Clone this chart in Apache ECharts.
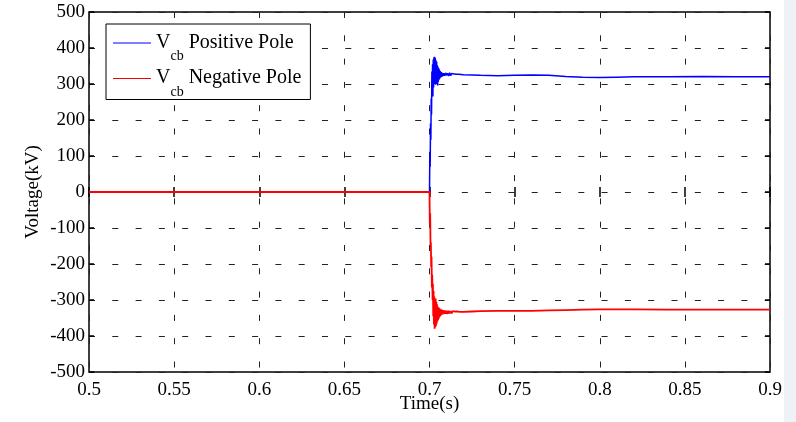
<!DOCTYPE html>
<html>
<head>
<meta charset="utf-8">
<script src="https://cdn.jsdelivr.net/npm/echarts@6/dist/echarts.min.js"></script>
<style>
  html, body { margin: 0; padding: 0; background: #ffffff; }
  #chart { width: 796px; height: 422px; }
</style>
</head>
<body>
<div id="chart"></div>
<script>
// Axis ranges and tick settings
const timeMin = 0.5, timeMax = 0.9, timeStep = 0.05;
const voltMin = -500, voltMax = 500, voltStep = 100;

// Series labels (V with subscript "cb")
const seriesNames = ['Positive Pole', 'Negative Pole'];

// Breaker voltage, positive pole: [time (s), voltage (kV)]
const positivePole = [
  [0.5000, 0], [0.7000, 0],
  [0.7002, 110], [0.7004, 70], [0.7006, 190], [0.7008, 145], [0.7010, 260],
  [0.7012, 215], [0.7014, 335], [0.7016, 270], [0.7018, 355], [0.7020, 265],
  [0.7022, 368], [0.7024, 290], [0.7026, 374], [0.7028, 300], [0.7030, 376],
  [0.7032, 305], [0.7034, 372], [0.7036, 298], [0.7038, 366], [0.7040, 300],
  [0.7042, 362], [0.7044, 308], [0.7046, 352], [0.7048, 296], [0.7050, 348],
  [0.7052, 306], [0.7054, 344], [0.7056, 312], [0.7058, 340], [0.7060, 315],
  [0.7063, 336], [0.7066, 318], [0.7069, 333], [0.7072, 320], [0.7076, 331],
  [0.7080, 322], [0.7085, 330], [0.7090, 323], [0.7095, 331], [0.7100, 324],
  [0.7106, 330], [0.7112, 322], [0.7118, 331], [0.7124, 323], [0.7130, 329],
  [0.7137, 324], [0.7144, 328], [0.7151, 323], [0.7158, 327], [0.7165, 324],
  [0.7172, 327], [0.7180, 325], [0.7200, 326], [0.7250, 325], [0.7300, 324],
  [0.7400, 323], [0.7500, 324], [0.7600, 325], [0.7700, 324], [0.7800, 321],
  [0.7900, 319], [0.8000, 318], [0.8100, 319], [0.8200, 320], [0.8400, 320],
  [0.8600, 321], [0.8800, 320], [0.9000, 320]
];

// Breaker voltage, negative pole: [time (s), voltage (kV)]
const negativePole = [
  [0.5000, 0], [0.7000, 0],
  [0.7002, -90], [0.7004, -60], [0.7006, -150], [0.7008, -140], [0.7010, -210],
  [0.7012, -180], [0.7014, -265], [0.7016, -230], [0.7018, -300], [0.7020, -255],
  [0.7022, -345], [0.7024, -275], [0.7026, -368], [0.7028, -290], [0.7030, -380],
  [0.7032, -300], [0.7034, -376], [0.7036, -296], [0.7038, -372], [0.7040, -305],
  [0.7042, -366], [0.7044, -312], [0.7046, -360], [0.7048, -318], [0.7050, -356],
  [0.7052, -320], [0.7054, -352], [0.7056, -322], [0.7058, -348], [0.7060, -324],
  [0.7063, -345], [0.7066, -326], [0.7069, -342], [0.7072, -327], [0.7076, -340],
  [0.7080, -328], [0.7085, -339], [0.7090, -329], [0.7095, -338], [0.7100, -330],
  [0.7106, -339], [0.7112, -330], [0.7118, -337], [0.7124, -331], [0.7130, -337],
  [0.7137, -331], [0.7144, -336], [0.7151, -332], [0.7158, -336], [0.7165, -332],
  [0.7172, -335], [0.7180, -333], [0.7200, -333], [0.7250, -332], [0.7300, -331],
  [0.7400, -330], [0.7500, -330], [0.7600, -330], [0.7700, -329], [0.7800, -328],
  [0.7900, -327], [0.8000, -326], [0.8100, -326], [0.8200, -326], [0.8400, -327],
  [0.8600, -327], [0.8800, -327], [0.9000, -327]
];

const FONT = 'Liberation Serif';
const gridDash = { color: '#222', width: 1, type: [6, 17.3] };

const chart = echarts.init(document.getElementById('chart'), null, { renderer: 'canvas' });

const hiddenAxisBits = {
  axisLabel: { show: false },
  splitLine: { show: false },
  axisLine: { show: false },
  axisTick: { show: true, inside: true, length: 5, lineStyle: { color: '#000', width: 1.5 } }
};

chart.setOption({
  backgroundColor: '#ffffff',
  animation: false,
  textStyle: { fontFamily: FONT },
  grid: {
    left: 89, right: 26, top: 12, bottom: 50,
    containLabel: false, outerBoundsMode: 'none',
    show: true, borderColor: '#000', borderWidth: 1.5, backgroundColor: 'transparent'
  },
  legend: {
    orient: 'vertical',
    left: 106, top: 24,
    padding: [0, 9, 0.5, 7],
    itemGap: -4,
    icon: 'rect',
    itemWidth: 38, itemHeight: 1.2,
    backgroundColor: '#fff',
    borderColor: '#000', borderWidth: 1,
    borderRadius: 0,
    data: seriesNames,
    formatter: name => '{v|V}{s|cb}{t| ' + name + '}',
    textStyle: {
      fontFamily: FONT, color: '#000',
      rich: {
        v: { fontSize: 20, lineHeight: 38, padding: [8.5, 0, 0, 0], verticalAlign: 'top', fontFamily: FONT, color: '#000' },
        s: { fontSize: 14, lineHeight: 14, padding: [25.5, 0, 0, 0], verticalAlign: 'top', fontFamily: FONT, color: '#000' },
        t: { fontSize: 20, lineHeight: 38, padding: [8.5, 0, 0, 0], verticalAlign: 'top', fontFamily: FONT, color: '#000' }
      }
    }
  },
  xAxis: [{
    type: 'value', position: 'bottom',
    min: timeMin, max: timeMax, interval: timeStep,
    name: 'Time(s)', nameLocation: 'middle', nameGap: 23, nameMoveOverlap: false,
    nameTextStyle: { fontFamily: FONT, fontSize: 19, color: '#000' },
    axisLine: { show: false },
    axisTick: { show: true, inside: true, length: 5, lineStyle: { color: '#000', width: 1.5 } },
    axisLabel: {
      fontFamily: FONT, fontSize: 19, color: '#000', margin: 9,
      formatter: v => String(+v.toFixed(2))
    },
    splitLine: { show: true, lineStyle: gridDash }
  }, Object.assign({
    type: 'value', position: 'top',
    min: timeMin, max: timeMax, interval: timeStep
  }, hiddenAxisBits)],
  yAxis: [{
    type: 'value', position: 'left',
    min: voltMin, max: voltMax, interval: voltStep,
    name: 'Voltage(kV)', nameLocation: 'middle', nameGap: 46, nameMoveOverlap: false,
    nameTextStyle: { fontFamily: FONT, fontSize: 19, color: '#000' },
    axisLine: { show: false },
    axisTick: { show: true, inside: true, length: 5, lineStyle: { color: '#000', width: 1.5 } },
    axisLabel: { fontFamily: FONT, fontSize: 19, color: '#000', margin: 4 },
    splitLine: { show: true, lineStyle: gridDash }
  }, Object.assign({
    type: 'value', position: 'right',
    min: voltMin, max: voltMax, interval: voltStep
  }, hiddenAxisBits)],
  series: [{
    name: seriesNames[0], type: 'line',
    data: positivePole,
    symbol: 'none', showSymbol: false,
    lineStyle: { color: '#0000ff', width: 1.5 },
    itemStyle: { color: '#0000ff' },
    z: 3
  }, {
    name: seriesNames[1], type: 'line',
    data: negativePole,
    symbol: 'none', showSymbol: false,
    lineStyle: { color: '#ff0000', width: 1.8 },
    itemStyle: { color: '#ff0000' },
    z: 4
  }],
  graphic: [{
    type: 'rect', left: 784, top: 0,
    shape: { width: 12, height: 422 },
    style: { fill: '#eef1f6' }, z: -1, silent: true
  }]
});
</script>
</body>
</html>
